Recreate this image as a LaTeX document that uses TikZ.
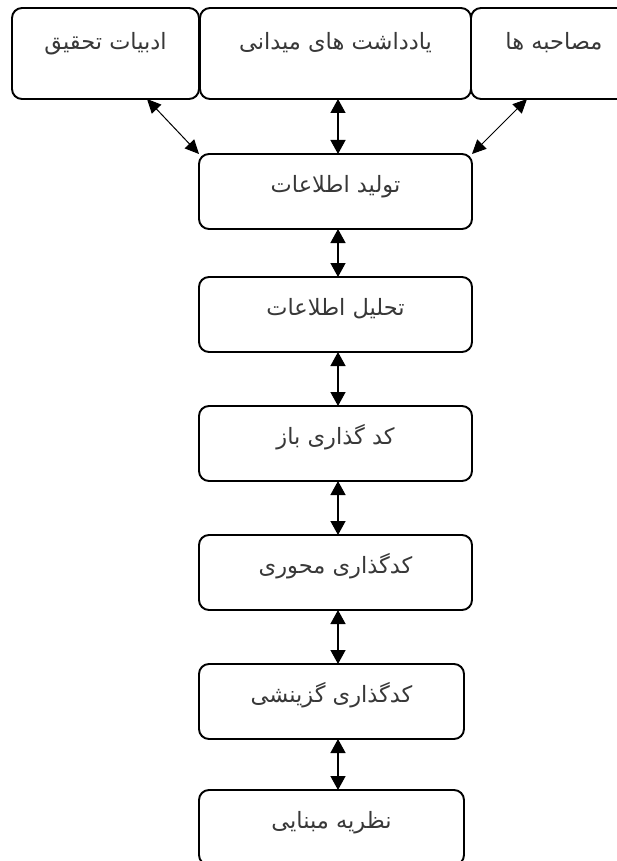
\documentclass[tikz,border=0pt]{standalone}
\usepackage{fontspec}
\newfontfamily\farsi[Script=Arabic]{DejaVu Sans}
\TeXXeTstate=1
\usetikzlibrary{arrows.meta,positioning}
\tikzset{
  stage/.style    = {draw, rounded corners=10pt, line width=1.9pt, inner sep=0pt, outer sep=0pt,
                     minimum width=273pt, minimum height=75pt,
                     text height=16pt, text depth=15pt,
                     font=\farsi\fontsize{22.5}{26}\selectfont, text=black!78},
  source/.style   = {stage, minimum height=91pt, text depth=23pt},
  link/.style     = {{Triangle[length=14pt,width=15pt]}-{Triangle[length=14pt,width=15pt]}, line width=1.4pt},
  sidelink/.style = {{Triangle[length=14pt,width=13pt]}-{Triangle[length=14pt,width=13pt]}, line width=1pt},
}
\newcommand{\fatext}[1]{\beginR #1\endR}

\begin{document}
\begin{tikzpicture}[x=1pt,y=1pt,node distance=52pt]
      \useasboundingbox (0,0) rectangle (616,-861);
      % sources
      \node [source, minimum width=271pt] (2) at (335.5,-53.5) {\fatext{یادداشت های میدانی}};
      \node [source, minimum width=187pt, left=1pt of 2] (1) {\fatext{ادبیات تحقیق}};
      \node [source, minimum width=166pt, right=0pt of 2] (3) {\fatext{مصاحبه ها}};
      % stages
      \node [stage, below=55pt of 2] (4) {\fatext{تولید اطلاعات}};
      \node [stage, below=48pt of 4] (5) {\fatext{تحلیل اطلاعات}};
      \node [stage, below=54pt of 5] (6) {\fatext{کد گذاری باز}};
      \node [stage, below=54pt of 6] (7) {\fatext{کدگذاری محوری}};
      \node [stage, minimum width=265pt, below right=54pt and 0pt of 7.south west] (8) {\fatext{کدگذاری گزینشی}};
      \node [stage, minimum width=265pt, below right=51pt and 0pt of 8.south west] (9) {\fatext{نظریه مبنایی}};

      \coordinate (axis) at ([xshift=2.5pt]4.north);
      \path (2.south -| axis) edge[link] (4.north -| axis);
      \path ([xshift=-52pt]1.south east) edge[sidelink] (4.north west);
      \path ([xshift=56pt]3.south west) edge[sidelink] (4.north east);
      \foreach \a/\b in {4/5,5/6,6/7,7/8,8/9}
        \path (\a.south -| axis) edge[link] (\b.north -| axis);
\end{tikzpicture}
\end{document}
